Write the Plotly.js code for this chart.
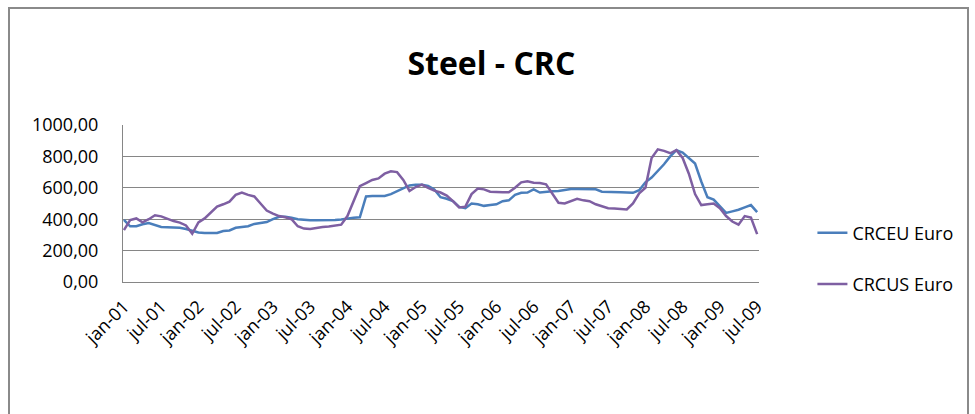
<!DOCTYPE html>
<html>
<head>
<meta charset="utf-8">
<script src="https://cdn.plot.ly/plotly-3.0.1.min.js"></script>
<style>
  html, body { margin: 0; padding: 0; background: #ffffff; overflow: hidden; }
  #wrap { position: relative; width: 975px; height: 414px; }
  #chart { position: absolute; left: 0; top: 0; width: 975px; height: 414px; }
  #frame { position: absolute; left: 8px; top: 7px; width: 961px; height: 420px;
           border: 2px solid #8a8a8a; pointer-events: none; box-sizing: border-box; }
</style>
</head>
<body>
<div id="wrap">
  <div id="chart"></div>
  <div id="frame"></div>
</div>
<script>
const categories = [
  "jan-01","feb-01","mrt-01","apr-01","mei-01","jun-01","jul-01","aug-01","sep-01","okt-01","nov-01","dec-01",
  "jan-02","feb-02","mrt-02","apr-02","mei-02","jun-02","jul-02","aug-02","sep-02","okt-02","nov-02","dec-02",
  "jan-03","feb-03","mrt-03","apr-03","mei-03","jun-03","jul-03","aug-03","sep-03","okt-03","nov-03","dec-03",
  "jan-04","feb-04","mrt-04","apr-04","mei-04","jun-04","jul-04","aug-04","sep-04","okt-04","nov-04","dec-04",
  "jan-05","feb-05","mrt-05","apr-05","mei-05","jun-05","jul-05","aug-05","sep-05","okt-05","nov-05","dec-05",
  "jan-06","feb-06","mrt-06","apr-06","mei-06","jun-06","jul-06","aug-06","sep-06","okt-06","nov-06","dec-06",
  "jan-07","feb-07","mrt-07","apr-07","mei-07","jun-07","jul-07","aug-07","sep-07","okt-07","nov-07","dec-07",
  "jan-08","feb-08","mrt-08","apr-08","mei-08","jun-08","jul-08","aug-08","sep-08","okt-08","nov-08","dec-08",
  "jan-09","feb-09","mrt-09","apr-09","mei-09","jun-09","jul-09"
];

const crceuEuro = [
  395,355,355,368,375,360,350,348,348,345,337,328,
  315,312,312,312,325,328,345,352,355,370,378,382,
  400,415,415,410,400,395,393,393,393,393,395,398,
  405,410,412,545,548,548,548,560,580,600,615,620,
  620,612,590,540,530,515,478,470,500,495,485,490,
  495,515,520,555,568,570,590,570,575,578,580,588,
  592,592,592,590,590,575,575,572,572,570,568,585,
  635,665,705,750,800,840,825,790,755,640,540,525,
  480,440,450,460,475,490,445
];

const crcusEuro = [
  330,395,405,380,400,425,418,402,388,378,360,307,
  380,405,440,480,495,512,555,570,555,545,500,455,
  435,420,412,400,355,340,337,345,350,353,360,365,
  420,520,610,630,650,660,690,705,700,650,580,605,
  620,600,582,570,550,515,475,480,560,595,590,575,
  572,572,572,600,635,642,632,630,622,560,505,500,
  515,530,520,515,495,480,470,468,465,462,500,565,
  600,790,845,835,820,840,790,690,560,490,495,500,
  470,420,385,365,420,410,305
];

const xTickLabels = ["jan-01","jul-01","jan-02","jul-02","jan-03","jul-03","jan-04","jul-04","jan-05",
  "jul-05","jan-06","jul-06","jan-07","jul-07","jan-08","jul-08","jan-09","jul-09"];

const yTickValues = [0, 200, 400, 600, 800, 1000];
const yTickLabels = ["0,00","200,00","400,00","600,00","800,00","1000,00"];

const seriesNames = ["CRCEU Euro", "CRCUS Euro"];
const chartTitle = "Steel - CRC";

const baseFont = "Open Sans, Noto Sans, DejaVu Sans, sans-serif";

const traces = [
  {
    type: "scatter", mode: "lines", name: seriesNames[0], legendgroup: "a",
    x: categories, y: crceuEuro,
    line: { color: "#4A7EBB", width: 2.5 }
  },
  {
    type: "scatter", mode: "lines", name: seriesNames[1], legendgroup: "b",
    x: categories, y: crcusEuro,
    line: { color: "#7E5FA2", width: 2.5 }
  }
];

const layout = {
  width: 975, height: 414,
  margin: { l: 123, r: 216, t: 125, b: 132, pad: 0 },
  paper_bgcolor: "#ffffff",
  plot_bgcolor: "#ffffff",
  font: { family: baseFont, size: 18, color: "#000000" },
  title: {
    text: "<b>" + chartTitle + "</b>",
    font: { family: baseFont, size: 32, color: "#000000" },
    x: 0.504, xanchor: "center", xref: "container",
    y: 0.845, yanchor: "middle", yref: "container"
  },
  showlegend: true,
  legend: {
    x: 1.084, xanchor: "left", y: 0.15, yanchor: "middle",
    traceorder: "grouped", tracegroupgap: 25,
    font: { family: baseFont, size: 18, color: "#000000" },
    bgcolor: "rgba(0,0,0,0)", borderwidth: 0
  },
  xaxis: {
    type: "category",
    range: [-0.15, 102.3],
    tickmode: "array",
    tickvals: xTickLabels,
    ticktext: xTickLabels,
    tickangle: -45,
    tickfont: { family: baseFont, size: 18, color: "#000000" },
    showgrid: false,
    showline: true, linecolor: "#868686", linewidth: 1,
    ticks: "", ticklabelstandoff: 6,
    zeroline: false, fixedrange: true
  },
  yaxis: {
    range: [0, 1000],
    tickmode: "array",
    tickvals: yTickValues,
    ticktext: yTickLabels,
    tickfont: { family: baseFont, size: 18, color: "#000000" },
    showgrid: true, gridcolor: "#868686", gridwidth: 1,
    showline: true, linecolor: "#868686", linewidth: 1,
    ticks: "", ticklabelstandoff: 20,
    zeroline: false, fixedrange: true
  },
  hovermode: false
};

Plotly.newPlot("chart", traces, layout, { staticPlot: true, displayModeBar: false });
</script>
</body>
</html>
